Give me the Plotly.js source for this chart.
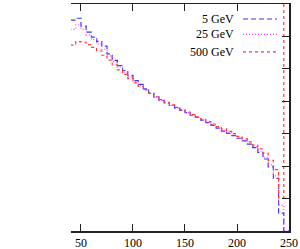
<!DOCTYPE html>
<html>
<head>
<meta charset="utf-8">
<script src="https://cdn.plot.ly/plotly-3.0.1.min.js"></script>
<style>html,body{margin:0;padding:0;background:#fff;}#chart{width:300px;height:249px;}</style>
</head>
<body>
<div id="chart"></div>
<script>
// Bin lower edges (GeV), bin width 5
const binEdges = [40,45,50,55,60,65,70,75,80,85,90,95,100,105,110,115,120,125,130,135,140,145,150,155,160,165,170,175,180,185,190,195,200,205,210,215,220,225,230,235,240,245];
const upperEdge = 250;
const seriesNames = ["5 GeV", "25 GeV", "500 GeV"];
const values5 = [6.50,6.56,6.32,6.13,5.98,5.85,5.70,5.46,5.26,5.10,4.95,4.80,4.64,4.52,4.38,4.25,4.13,4.03,3.95,3.87,3.79,3.72,3.65,3.57,3.50,3.42,3.34,3.26,3.17,3.08,3.01,2.94,2.86,2.78,2.68,2.57,2.42,2.22,1.98,1.62,0.55,0];
const values25 = [6.22,6.36,6.22,6.05,5.90,5.76,5.60,5.40,5.22,5.05,4.90,4.75,4.60,4.48,4.36,4.24,4.13,4.03,3.95,3.87,3.79,3.72,3.65,3.57,3.50,3.42,3.35,3.27,3.19,3.10,3.03,2.96,2.88,2.80,2.70,2.60,2.46,2.28,2.04,1.70,0.80,0];
const values500 = [5.73,5.84,5.82,5.75,5.66,5.55,5.42,5.27,5.12,4.97,4.83,4.70,4.57,4.46,4.35,4.24,4.14,4.05,3.97,3.89,3.81,3.74,3.67,3.59,3.52,3.44,3.37,3.30,3.22,3.15,3.07,3.00,2.92,2.84,2.75,2.65,2.53,2.40,2.18,1.89,1.02,20];
const xTicks = [50,100,150,200,250];

const colors = ["#3a3aff", "#ff3cff", "#ff3c3c"];
const dashes = ["5px,3px", "1px,2px", "3px,3px"];
const allValues = [values5, values25, values500];

const xs = binEdges.concat([upperEdge]);
const traces = allValues.map((v, i) => ({
  type: "scatter",
  mode: "lines",
  x: xs,
  y: v.concat([v[v.length - 1]]),
  line: {shape: "hv", color: colors[i], width: 1.2, dash: dashes[i]},
  name: seriesNames[i],
  showlegend: false,
  hoverinfo: "skip"
}));

const serif = "Liberation Serif, DejaVu Serif, serif";
const legY = [0.934, 0.866, 0.789];
const annotations = seriesNames.map((n, i) => ({
  xref: "paper", yref: "paper", x: 0.755, y: legY[i],
  xanchor: "right", yanchor: "middle", showarrow: false,
  text: n, font: {family: serif, size: 12, color: "#000"}
}));
const shapes = seriesNames.map((n, i) => ({
  type: "line", xref: "paper", yref: "paper",
  x0: 0.789, x1: 0.945, y0: legY[i], y1: legY[i],
  line: {color: colors[i], width: 1.2, dash: dashes[i]}
}));

const layout = {
  width: 300, height: 249,
  margin: {l: 71, r: 11, t: 4, b: 18},
  paper_bgcolor: "#fff", plot_bgcolor: "#fff",
  showlegend: false,
  xaxis: {
    range: [40.4, 250], tickvals: xTicks, ticktext: xTicks.map(String),
    showgrid: false, zeroline: false,
    showline: true, linecolor: "#222", linewidth: 1.5, mirror: "ticks",
    ticks: "inside", ticklen: 7, tickwidth: 1, tickcolor: "#222",
    tickfont: {family: serif, size: 12, color: "#000"}
  },
  yaxis: {
    range: [0, 7], dtick: 1, side: "right",
    showgrid: false, zeroline: false, showticklabels: false,
    showline: true, linecolor: "#222", linewidth: 1.5,
    ticks: "inside", ticklen: 7, tickwidth: 1, tickcolor: "#222"
  },
  annotations: annotations,
  shapes: shapes
};

Plotly.newPlot("chart", traces, layout, {staticPlot: true, displayModeBar: false});
</script>
</body>
</html>
